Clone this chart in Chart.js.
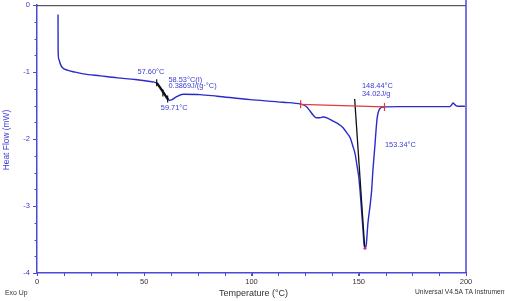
<!DOCTYPE html>
<html><head><meta charset="utf-8">
<script src="https://cdn.jsdelivr.net/npm/chart.js@4/dist/chart.umd.min.js"></script>
<style>html,body{margin:0;padding:0;background:#fff}#wrap{width:505px;height:301px}</style>
</head><body><div id="wrap"><canvas id="c" width="505" height="301"></canvas></div>
<script>
// Temperature (°C) and heat flow (mW)
const temps = [9.8,9.82,9.85,10.2,10.9,11.8,14.1,17.8,21.6,29.5,37.4,45.8,52.7,55.6,57.4,59.3,60.7,61.6,63.0,64.9,68.1,76,84,99.4,114.7,123.1,125.4,127.3,128.7,130.1,131.9,133.3,135.7,138,140.3,142.7,144.5,146,147.3,148.3,149.2,149.9,150.6,151.4,152,152.4,152.9,153.4,154.3,155.3,156,156.6,157.6,158.1,158.6,159.3,160,161.3,169.2,183.2,192.5,193.5,194,194.6,195.3,196.3,199.5];
const heatFlow = [-0.14,-0.40,-0.69,-0.81,-0.88,-0.93,-0.97,-1.00,-1.025,-1.055,-1.085,-1.11,-1.14,-1.16,-1.225,-1.31,-1.39,-1.42,-1.41,-1.37,-1.33,-1.335,-1.36,-1.41,-1.45,-1.48,-1.51,-1.58,-1.64,-1.68,-1.68,-1.67,-1.69,-1.73,-1.77,-1.83,-1.91,-1.98,-2.11,-2.22,-2.40,-2.54,-2.77,-3.11,-3.36,-3.55,-3.625,-3.60,-3.25,-2.99,-2.77,-2.47,-2.07,-1.85,-1.68,-1.58,-1.54,-1.52,-1.515,-1.515,-1.515,-1.48,-1.46,-1.48,-1.50,-1.51,-1.51];

// Analysis marks
const tgLineX = [55.9, 61.1];
const tgLineY = [-1.16, -1.41];
const tgMarkX = [55.8, 58.7, 60.9];
const tgMarkY = [-1.16, -1.31, -1.40];
const baseLineX = [122.9, 162.0];
const baseLineY = [-1.48, -1.52];
const onsetLineX = [148.1, 152.8];
const onsetLineY = [-1.40, -3.63];
const peakX = [152.9];
const peakY = [-3.63];

// Annotation texts and anchor values (temperature, heat flow)
const annoTexts = ["57.60°C","58.53°C(I)","0.3869J/(g·°C)","59.71°C","148.44°C","34.02J/g","153.34°C"];
const annoX = [46.9, 61.3, 61.3, 57.7, 151.5, 151.5, 162.2];
const annoY = [-0.99, -1.12, -1.21, -1.53, -1.21, -1.325, -2.085];

// Axis ticks
const xMin = 0, xMax = 200, xStep = 50, xMinor = 12.5;
const yMin = -4, yMax = 0, yStep = 1, yMinor = 0.25;

const pts = (xs, ys) => xs.map((x, i) => ({x, y: ys[i]}));

const BLUE = '#2b2bc9';
const AXBLUE = '#4a4ad8';
const TXTBLUE = '#3a3ad2';

const overlay = {
  id: 'overlay',
  afterDraw(chart) {
    const {ctx, chartArea: a, scales: {x, y}} = chart;
    ctx.save();
    // top border
    ctx.strokeStyle = '#333';
    ctx.lineWidth = 1;
    ctx.beginPath(); ctx.moveTo(a.left, a.top + 0.5); ctx.lineTo(a.right, a.top + 0.5); ctx.stroke();
    // right border
    ctx.strokeStyle = AXBLUE; ctx.lineWidth = 1.5;
    ctx.beginPath(); ctx.moveTo(a.right, 0); ctx.lineTo(a.right, a.bottom); ctx.stroke();
    // minor ticks
    ctx.lineWidth = 1;
    for (let v = yMin; v <= yMax + 1e-9; v += yMinor) {
      const py = Math.round(y.getPixelForValue(v)) + 0.5;
      ctx.beginPath(); ctx.moveTo(a.left - 2.5, py); ctx.lineTo(a.left, py); ctx.stroke();
    }
    for (let v = xMin; v <= xMax + 1e-9; v += xMinor) {
      const px = Math.round(x.getPixelForValue(v)) + 0.5;
      ctx.beginPath(); ctx.moveTo(px, a.bottom); ctx.lineTo(px, a.bottom + 3); ctx.stroke();
    }
    // annotations
    ctx.fillStyle = TXTBLUE;
    ctx.font = '7.4px "Liberation Sans", Arial, sans-serif';
    ctx.textBaseline = 'middle'; ctx.textAlign = 'left';
    annoTexts.forEach((t, i) => ctx.fillText(t, x.getPixelForValue(annoX[i]), y.getPixelForValue(annoY[i])));
    // axis titles
    ctx.save();
    ctx.translate(7, 140); ctx.rotate(-Math.PI / 2);
    ctx.textAlign = 'center';
    ctx.font = '8.4px "Liberation Sans", Arial, sans-serif';
    ctx.fillText('Heat Flow (mW)', 0, 0);
    ctx.restore();
    ctx.fillStyle = '#333';
    ctx.textAlign = 'center';
    ctx.font = '9px "Liberation Sans", Arial, sans-serif';
    ctx.fillText('Temperature (°C)', 253.5, 294);
    ctx.textAlign = 'left';
    ctx.font = '6.9px "Liberation Sans", Arial, sans-serif';
    ctx.fillText('Exo Up', 5, 293);
    ctx.font = '6.7px "Liberation Sans", Arial, sans-serif';
    ctx.fillText('Universal V4.5A TA Instruments', 415, 292.5);
    ctx.restore();
  }
};

new Chart(document.getElementById('c'), {
  type: 'scatter',
  data: {
    datasets: [
      {data: pts(temps, heatFlow), showLine: true, borderColor: BLUE, borderWidth: 1.4, pointRadius: 0, cubicInterpolationMode: 'monotone', order: 3},
      {data: pts(baseLineX, baseLineY), showLine: true, borderColor: '#e03a3a', borderWidth: 1.2, pointRadius: 4, pointStyle: 'line', rotation: 90, pointBorderColor: '#e03a3a', pointBorderWidth: 1.2, order: 1},
      {data: pts(tgLineX, tgLineY), showLine: true, borderColor: '#111', borderWidth: 2.2, pointRadius: 0, order: 1},
      {data: pts(tgMarkX, tgMarkY), showLine: false, pointRadius: 3.5, pointStyle: 'line', rotation: 90, pointBorderColor: '#111', pointBorderWidth: 1.2, order: 1},
      {data: pts(onsetLineX, onsetLineY), showLine: true, borderColor: '#111', borderWidth: 1.3, pointRadius: 0, order: 2},
      {data: pts(peakX, peakY), showLine: false, pointRadius: 1.5, pointBackgroundColor: '#d0308a', pointBorderWidth: 0, order: 0}
    ]
  },
  options: {
    responsive: false, animation: false, devicePixelRatio: 1,
    layout: {padding: {left: 0, right: 39, top: 2, bottom: 0}},
    plugins: {legend: {display: false}, tooltip: {enabled: false}},
    scales: {
      x: {
        type: 'linear', min: xMin, max: xMax,
        afterFit: s => { s.height = 28; s.paddingLeft = 0; s.paddingRight = 0; },
        ticks: {stepSize: xStep, color: '#333', font: {size: 7.5, family: '"Liberation Sans", Arial, sans-serif'}, padding: 1, maxRotation: 0},
        grid: {drawOnChartArea: false, drawTicks: true, tickLength: 3, color: AXBLUE},
        border: {display: true, color: AXBLUE, width: 1.5}
      },
      y: {
        type: 'linear', min: yMin, max: yMax,
        afterFit: s => { s.width = 37; s.paddingTop = 0; s.paddingBottom = 0; },
        ticks: {stepSize: yStep, color: TXTBLUE, font: {size: 7.5, family: '"Liberation Sans", Arial, sans-serif'}, padding: 3},
        grid: {drawOnChartArea: false, drawTicks: true, tickLength: 4, color: AXBLUE},
        border: {display: true, color: AXBLUE, width: 1.5}
      }
    }
  },
  plugins: [overlay]
});
</script></body></html>
